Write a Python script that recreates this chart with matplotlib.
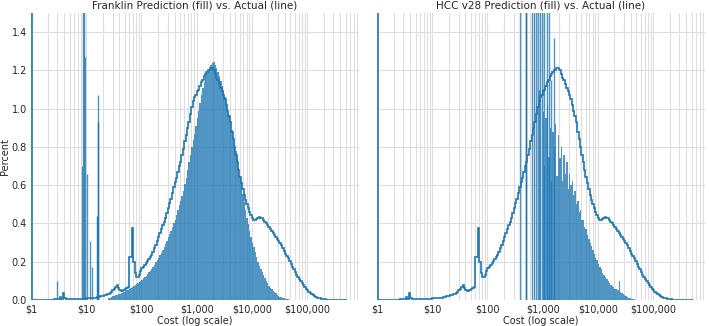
import numpy as np
import matplotlib
matplotlib.use("Agg")
import matplotlib.pyplot as plt
from matplotlib.ticker import FuncFormatter, LogLocator, NullFormatter, MultipleLocator

# ---------------- data (percent of members per log-cost bin) ----------------
titles = ["Franklin Prediction (fill) vs. Actual (line)",
          "HCC v28 Prediction (fill) vs. Actual (line)"]
xtick_costs = [1, 10, 100, 1000, 10000, 100000]

# Actual cost distribution (step line); first bin is the $1 pile-up
actual_first_pct = 2.5
actual_log_start = 0.025          # subsequent bins, 0.025-decade wide
actual_pct = [
    0.0, 0.0, 0.0, 0.0, 0.0, 0.0, 0.0, 0.0, 0.0, 0.0,
    0.001, 0.001, 0.001, 0.002, 0.002, 0.002, 0.003, 0.003, 0.004, 0.006,
    0.015, 0.005, 0.035, 0.012, 0.004, 0.003, 0.003, 0.003, 0.003, 0.004,
    0.004, 0.005, 0.005, 0.005, 0.006, 0.006, 0.006, 0.007, 0.007, 0.008,
    0.008, 0.008, 0.009, 0.010, 0.011, 0.012, 0.013, 0.015, 0.017, 0.020,
    0.020, 0.022, 0.024, 0.028, 0.030, 0.032, 0.035, 0.040, 0.050, 0.060,
    0.070, 0.078, 0.065, 0.052, 0.048, 0.045, 0.050, 0.055, 0.062, 0.070,
    0.226, 0.226, 0.375, 0.200, 0.140, 0.120, 0.120, 0.130, 0.150, 0.165,
    0.175, 0.185, 0.195, 0.205, 0.215, 0.225, 0.235, 0.250, 0.270, 0.290,
    0.310, 0.330, 0.350, 0.370, 0.390, 0.410, 0.430, 0.455, 0.480, 0.505,
    0.530, 0.560, 0.590, 0.615, 0.640, 0.670, 0.700, 0.720, 0.760, 0.790,
    0.830, 0.860, 0.900, 0.930, 0.970, 1.010, 1.040, 1.060, 1.070, 1.090,
    1.100, 1.120, 1.140, 1.150, 1.170, 1.180, 1.190, 1.200, 1.200, 1.210,
    1.210, 1.200, 1.180, 1.160, 1.150, 1.130, 1.110, 1.090, 1.070, 1.050,
    1.020, 0.990, 0.960, 0.930, 0.880, 0.840, 0.800, 0.760, 0.720, 0.680,
    0.645, 0.610, 0.580, 0.550, 0.525, 0.500, 0.480, 0.460, 0.445, 0.430,
    0.420, 0.420, 0.425, 0.430, 0.435, 0.430, 0.430, 0.420, 0.410, 0.400,
    0.390, 0.380, 0.370, 0.360, 0.350, 0.340, 0.330, 0.320, 0.310, 0.300,
    0.285, 0.270, 0.255, 0.240, 0.230, 0.220, 0.205, 0.190, 0.175, 0.160,
    0.145, 0.130, 0.120, 0.110, 0.100, 0.090, 0.080, 0.070, 0.060, 0.050,
    0.042, 0.035, 0.030, 0.025, 0.020, 0.016, 0.013, 0.010, 0.008, 0.006,
    0.005, 0.004, 0.003, 0.002, 0.002, 0.001, 0.001, 0.001, 0.0008, 0.0006,
    0.0005, 0.0004, 0.0003, 0.0002, 0.0002, 0.0001, 0.0001, 0.0]

# Franklin prediction (filled histogram, 0.025-decade bins)
franklin_log_start = 1.40
franklin_pct = [
    0.011, 0.013, 0.016, 0.019, 0.021, 0.024, 0.026, 0.029, 0.032, 0.035,
    0.038, 0.042, 0.046, 0.050, 0.054, 0.058, 0.063, 0.068, 0.073, 0.078,
    0.083, 0.088, 0.093, 0.100, 0.107, 0.114, 0.121, 0.128, 0.136, 0.144,
    0.152, 0.162, 0.172, 0.185, 0.197, 0.208, 0.219, 0.233, 0.248, 0.263,
    0.278, 0.294, 0.310, 0.327, 0.344, 0.362, 0.380, 0.400, 0.420, 0.445,
    0.470, 0.495, 0.520, 0.545, 0.570, 0.605, 0.640, 0.680, 0.720, 0.760,
    0.800, 0.835, 0.870, 0.910, 0.950, 0.990, 1.030, 1.070, 1.110, 1.140,
    1.170, 1.185, 1.200, 1.215, 1.230, 1.240, 1.245, 1.230, 1.210, 1.190,
    1.170, 1.145, 1.120, 1.090, 1.060, 1.030, 1.000, 0.965, 0.930, 0.890,
    0.850, 0.815, 0.780, 0.735, 0.690, 0.645, 0.600, 0.555, 0.510, 0.470,
    0.430, 0.395, 0.360, 0.330, 0.300, 0.275, 0.250, 0.225, 0.200, 0.180,
    0.160, 0.145, 0.130, 0.115, 0.100, 0.088, 0.075, 0.065, 0.055, 0.047,
    0.040, 0.034, 0.028, 0.023, 0.018, 0.014, 0.011, 0.008, 0.006, 0.004,
    0.003, 0.002, 0.001]
# narrow spikes in Franklin prediction (cost $, percent, dark?)
franklin_spike_cost = [2.9, 8.5, 8.9, 9.1, 9.5, 10.3, 11.5, 12.9, 15.6, 16.2, 16.5]
franklin_spike_pct = [0.10, 0.70, 2.0, 2.0, 1.27, 0.66, 0.31, 0.17, 0.44, 0.93, 1.07]
franklin_spike_dark = [0, 0, 0, 0, 0, 0, 0, 0, 1, 1, 0]

# HCC v28 prediction (filled histogram, 0.025-decade bins)
hcc_log_start = 3.0
hcc_pct = [0.98, 0.70, 0.95, 1.02, 0.75, 0.90, 0.62, 0.88, 0.80, 0.92,
           0.65, 0.86, 0.74, 0.80, 0.62, 0.76, 0.66, 0.72, 0.58, 0.66,
           0.60, 0.62, 0.55, 0.57, 0.50, 0.52, 0.46, 0.47, 0.42, 0.42,
           0.38, 0.37, 0.34, 0.32, 0.30, 0.28, 0.26, 0.24, 0.22, 0.21,
           0.19, 0.17, 0.16, 0.14, 0.13, 0.12, 0.11, 0.10, 0.09, 0.08,
           0.075, 0.07, 0.06, 0.055, 0.05, 0.10, 0.04, 0.035, 0.03, 0.025,
           0.02, 0.016, 0.012, 0.009, 0.007, 0.005, 0.003, 0.002, 0.001]
hcc_spike_cost = [389, 496, 507, 631, 692, 759, 813, 871, 891, 977, 1072, 1175, 1288, 1400, 1622]
hcc_spike_pct = [2.0, 2.0, 2.0, 2.0, 2.0, 2.0, 2.0, 1.10, 2.0, 2.0, 2.0, 2.0, 2.0, 1.15, 1.37]
hcc_spike_dark = [0, 1, 1, 0, 0, 0, 0, 0, 0, 0, 0, 0, 0, 0, 0]

# ---------------- styling ----------------
BLUE = "#1f77b4"
FILL = (0.1216, 0.4667, 0.7059, 0.78)
GRID = "#dedede"
TXT = "#262626"
plt.rcParams["font.family"] = ["DejaVu Sans"]

W, H = 709, 326
fig = plt.figure(figsize=(W / 100, H / 100), dpi=100)
axL = fig.add_axes([31 / W, 26 / H, 328 / W, 287 / H])
axR = fig.add_axes([377 / W, 26 / H, 328 / W, 287 / H], sharey=axL)


def edges_from(start, n, s):
    return 10 ** (start + s * np.arange(n + 1))


def draw_fill(ax, start, vals, s):
    e = edges_from(start, len(vals), s)
    ax.stairs(vals, e, fill=True, color=FILL, linewidth=0, zorder=2)


def draw_spikes(ax, costs, pcts, dark):
    for c, p, d in zip(costs, pcts, dark):
        ax.vlines(c, 0, p, color=BLUE if d else FILL, linewidth=1.0, zorder=2.5)


def draw_actual(ax):
    e = np.concatenate([[1.0], edges_from(actual_log_start, len(actual_pct), 0.025)])
    ax.stairs([actual_first_pct] + actual_pct, e, baseline=None,
              color=BLUE, linewidth=1.2, zorder=3)


draw_fill(axL, franklin_log_start, franklin_pct, 0.025)
draw_spikes(axL, franklin_spike_cost, franklin_spike_pct, franklin_spike_dark)
draw_actual(axL)

draw_fill(axR, hcc_log_start, hcc_pct, 0.025)
draw_spikes(axR, hcc_spike_cost, hcc_spike_pct, hcc_spike_dark)
draw_actual(axR)


def money(v, pos):
    return f"${v:,.0f}"


for ax, title in zip([axL, axR], titles):
    ax.set_xscale("log")
    ax.set_xlim(1, 10 ** 5.94)
    ax.set_ylim(0, 1.5)
    ax.set_facecolor("white")
    ax.xaxis.set_major_locator(LogLocator(base=10))
    ax.xaxis.set_major_formatter(FuncFormatter(money))
    ax.xaxis.set_minor_locator(LogLocator(base=10, subs=np.arange(2, 10)))
    ax.xaxis.set_minor_formatter(NullFormatter())
    ax.set_xticks(xtick_costs)
    ax.yaxis.set_major_locator(MultipleLocator(0.2))
    ax.grid(True, which="both", axis="x", color=GRID, linewidth=0.8, zorder=0)
    ax.grid(True, which="major", axis="y", color=GRID, linewidth=0.8, zorder=0)
    ax.set_axisbelow(True)
    for sp in ax.spines.values():
        sp.set_visible(False)
    ax.tick_params(axis="both", which="both", length=0, labelsize=7,
                   labelcolor=TXT, pad=3)
    ax.set_title(title, fontsize=7.5, color=TXT, pad=3)
    ax.set_xlabel("Cost (log scale)", fontsize=7, color=TXT, labelpad=1)

axL.set_ylabel("Percent", fontsize=7, color=TXT, labelpad=1)
axR.tick_params(axis="y", labelleft=False)

fig.savefig("out.png", dpi=100, facecolor="white")
